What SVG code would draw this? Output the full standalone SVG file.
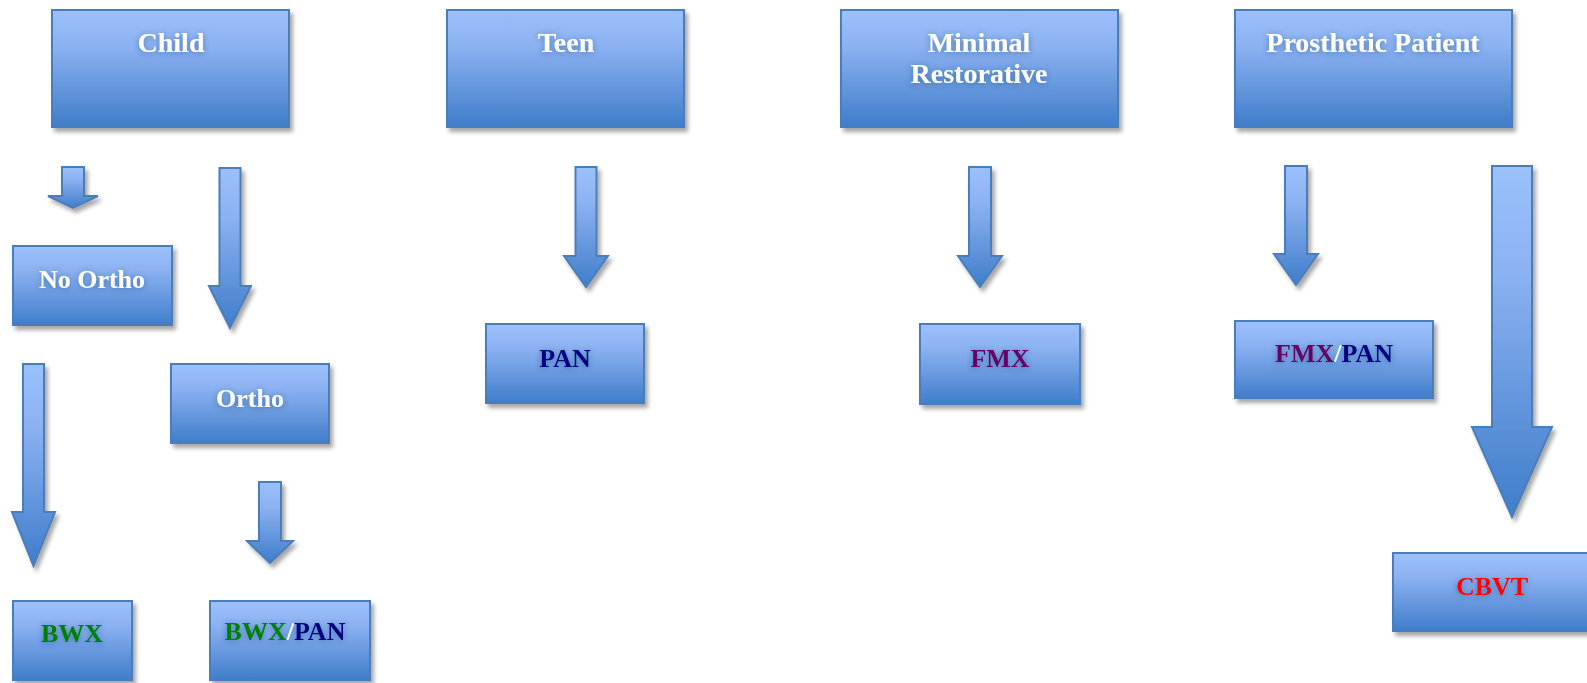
<svg xmlns="http://www.w3.org/2000/svg" width="1587" height="683" viewBox="0 0 1587 683">
<defs>
<linearGradient id="g" x1="0" y1="0" x2="0" y2="1">
<stop offset="0" stop-color="#9CC0FA"/>
<stop offset="0.3" stop-color="#8CB2F2"/>
<stop offset="1" stop-color="#3F7DCA"/>
</linearGradient>
<filter id="sh" x="-10%" y="-10%" width="130%" height="130%">
<feDropShadow dx="3" dy="4" stdDeviation="2" flood-color="#000" flood-opacity="0.35"/>
</filter>
<filter id="ts" x="-20%" y="-40%" width="140%" height="180%">
<feDropShadow dx="0" dy="1" stdDeviation="3" flood-color="#1F3A66" flood-opacity="0.45"/>
</filter>
</defs>
<style>
.box{fill:url(#g);stroke:#4A7EBB;stroke-width:2;filter:url(#sh)}
.arr{fill:url(#g);stroke:#4A7EBB;stroke-width:2;stroke-linejoin:miter;filter:url(#sh)}
text{font-family:"Liberation Serif","DejaVu Serif",serif;font-weight:bold;text-anchor:middle;filter:url(#ts)}
.top{font-size:28px;fill:#FFFFFF}
.low{font-size:26px;fill:#FFFFFF}
.g{fill:#008000}.n{fill:#000080}.p{fill:#660066}.r{fill:#FF0000}.w{fill:#FFFFFF}
</style>
<g id="connectors">
<path class="arr" d="M62,167 H84 V196 H98 L73,208 L48,196 H62 Z"/>
<path class="arr" d="M219.5,168 H240.5 V286 H251 L230,328 L209,286 H219.5 Z"/>
<path class="arr" d="M23,364 H44 V512 H55 L33.5,566 L12,512 H23 Z"/>
<path class="arr" d="M259,482 H281 V541 H293 L270,563 L247,541 H259 Z"/>
<path class="arr" d="M575.5,167 H596.5 V256 H608 L586,287 L564,256 H575.5 Z"/>
<path class="arr" d="M969,167 H991 V256 H1002 L980,287 L958,256 H969 Z"/>
<path class="arr" d="M1285,166 H1307 V254 H1318 L1296,285 L1274,254 H1285 Z"/>
<path class="arr" d="M1492,166 H1532 V427 H1552 L1512,517 L1472,427 H1492 Z"/>
</g>
<g id="child"><rect class="box" x="52" y="10" width="237" height="117"/><text class="top" x="171" y="52">Child</text></g>
<g id="teen"><rect class="box" x="447" y="10" width="237" height="117"/><text class="top" x="566" y="52">Teen</text></g>
<g id="minimal"><rect class="box" x="841" y="10" width="277" height="117"/><text class="top" x="979" y="52">Minimal</text><text class="top" x="979" y="83">Restorative</text></g>
<g id="prosthetic"><rect class="box" x="1235" y="10" width="277" height="117"/><text class="top" x="1373" y="52">Prosthetic Patient</text></g>
<g id="noortho"><rect class="box" x="13" y="246" width="159" height="79"/><text class="low" x="92" y="288">No Ortho</text></g>
<g id="ortho"><rect class="box" x="171" y="364" width="158" height="79"/><text class="low" x="250" y="407">Ortho</text></g>
<g id="bwx"><rect class="box" x="13" y="601" width="119" height="79"/><text class="low g" x="72" y="642">BWX</text></g>
<g id="bwxpan"><rect class="box" x="210" y="601" width="160" height="79"/><text class="low" x="285" y="640"><tspan class="g">BWX</tspan><tspan class="w">/</tspan><tspan class="n">PAN</tspan></text></g>
<g id="pan"><rect class="box" x="486" y="324" width="158" height="79"/><text class="low n" x="565" y="367">PAN</text></g>
<g id="fmx"><rect class="box" x="920" y="324" width="160" height="80"/><text class="low p" x="1000" y="367">FMX</text></g>
<g id="fmxpan"><rect class="box" x="1235" y="321" width="198" height="77"/><text class="low" x="1334" y="362"><tspan class="p">FMX</tspan><tspan class="w">/</tspan><tspan class="n">PAN</tspan></text></g>
<g id="cbvt"><rect class="box" x="1393" y="553" width="200" height="78"/><text class="low r" x="1492" y="595">CBVT</text></g>
</svg>
